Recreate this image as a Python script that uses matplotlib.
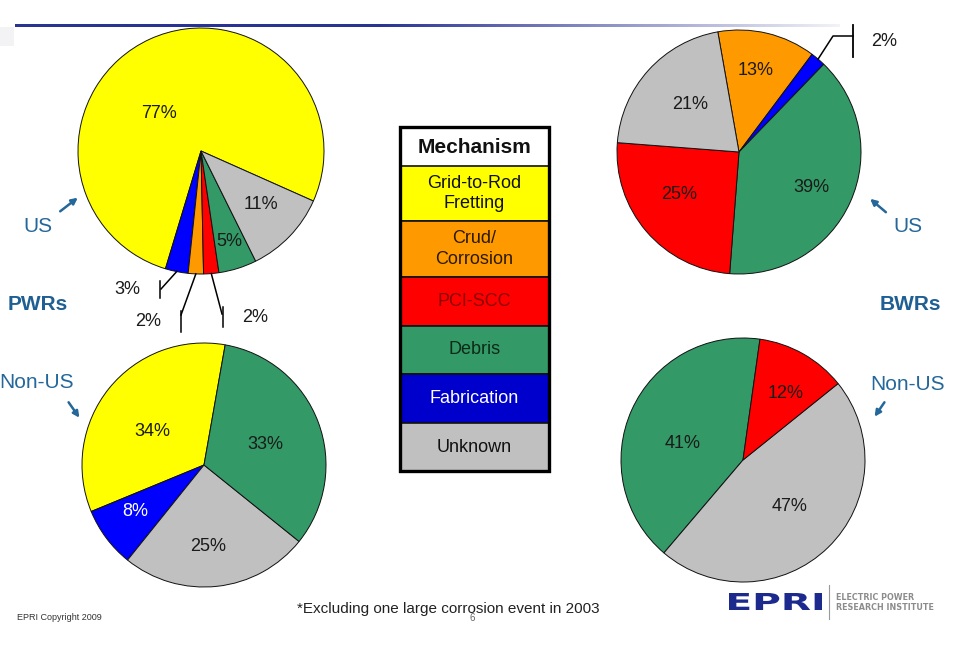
import numpy as np
import matplotlib
matplotlib.use("Agg")
import matplotlib.pyplot as plt
from matplotlib.patches import Rectangle, PathPatch, FancyArrowPatch
from matplotlib.textpath import TextPath
from matplotlib.font_manager import FontProperties
from matplotlib.transforms import Affine2D

plt.rcParams['font.family'] = ['Liberation Sans', 'DejaVu Sans']

# ---- data ----
mechanisms = ['GTRF', 'Crud', 'PCI', 'Debris', 'Fab', 'Unknown']
mechanism_names = ['Grid-to-Rod\nFretting', 'Crud/\nCorrosion', 'PCI-SCC',
                   'Debris', 'Fabrication', 'Unknown']

pwr_us_cats = ['GTRF', 'Fab', 'Crud', 'PCI', 'Debris', 'Unknown']
pwr_us_vals = [77, 3, 2, 2, 5, 11]

pwr_nonus_cats = ['GTRF', 'Fab', 'Unknown', 'Debris']
pwr_nonus_vals = [34, 8, 25, 33]

bwr_us_cats = ['Crud', 'Fab', 'Debris', 'PCI', 'Unknown']
bwr_us_vals = [13, 2, 39, 25, 21]

bwr_nonus_cats = ['Debris', 'Unknown', 'PCI']
bwr_nonus_vals = [41, 47, 12]

footnote = '*Excluding one large corrosion event in 2003'

# ---- style ----
pie_colors = {'GTRF': '#FFFF00', 'Crud': '#FF9900', 'PCI': '#FF0000',
              'Debris': '#339966', 'Fab': '#0000FF', 'Unknown': '#C0C0C0'}
legend_colors = {'GTRF': '#FFFF00', 'Crud': '#FF9900', 'PCI': '#FF0000',
                 'Debris': '#339966', 'Fab': '#0000CC', 'Unknown': '#C0C0C0'}
legend_text = {'GTRF': '#111111', 'Crud': '#2a1a00', 'PCI': '#8a0000',
               'Debris': '#0c2a18', 'Fab': 'white', 'Unknown': '#111111'}
blue_txt = '#24679a'

W, H = 964, 658
fig = plt.figure(figsize=(W / 100, H / 100), dpi=100)
ax = fig.add_axes([0, 0, 1, 1])


def fy(py):
    return H - py


def draw_pie(cats, vals, cx, cy, r, start, ccw, label_spec):
    wedges, _ = ax.pie(vals, colors=[pie_colors[c] for c in cats], startangle=start,
                       counterclock=ccw, radius=r, center=(cx, fy(cy)), frame=True,
                       wedgeprops=dict(edgecolor='#111111', linewidth=0.7))
    for w, c, v in zip(wedges, cats, vals):
        spec = label_spec.get(c)
        if spec is None:
            continue
        d, da = spec
        a = np.deg2rad((w.theta1 + w.theta2) / 2 + da)
        ax.text(cx + d * r * np.cos(a), fy(cy) + d * r * np.sin(a), f'{v}%',
                ha='center', va='center', fontsize=13,
                color='white' if c == 'Fab' else '#1a1a1a')
    return wedges


pwr_us_w = draw_pie(pwr_us_cats, pwr_us_vals, 201, 151, 123, -24, True,
                    {'GTRF': (0.46, 24), 'Debris': (0.77, 0), 'Unknown': (0.65, 2)})
draw_pie(pwr_nonus_cats, pwr_nonus_vals, 204, 465, 122, 80, True,
         {'GTRF': (0.5, 6), 'Fab': (0.68, -3), 'Unknown': (0.67, -3), 'Debris': (0.53, -2)})
bwr_us_w = draw_pie(bwr_us_cats, bwr_us_vals, 739, 152, 122, 100, False,
                    {'Crud': (0.68, 2), 'Debris': (0.66, -2), 'PCI': (0.6, -5),
                     'Unknown': (0.56, -2)})
draw_pie(bwr_nonus_cats, bwr_nonus_vals, 743, 460, 122, 82, True,
         {'Debris': (0.51, 9), 'Unknown': (0.54, 1), 'PCI': (0.65, -3)})


def edge_point(w, cx, cy, r):
    a = np.deg2rad((w.theta1 + w.theta2) / 2)
    return cx + r * np.cos(a), fy(cy) + r * np.sin(a)


# leaders for small PWR US slices
small = [('Fab', (161, 289), (160, 281, 298), (127, 290)),
         ('Crud', (181, 315), (181, 311, 332), (148, 322)),
         ('PCI', (222, 314), (223, 307, 327), (255, 317))]
for cat, mid, tick, txt in small:
    i = pwr_us_cats.index(cat)
    x0, y0 = edge_point(pwr_us_w[i], 201, 151, 123)
    ax.plot([x0, mid[0]], [y0, fy(mid[1])], color='black', lw=1.1)
    ax.plot([tick[0], tick[0]], [fy(tick[1]), fy(tick[2])], color='black', lw=1.1)
    ax.text(txt[0], fy(txt[1]), f'{pwr_us_vals[i]}%', ha='center', va='center',
            fontsize=13, color='#1a1a1a')

# leader for BWR US fabrication
i = bwr_us_cats.index('Fab')
x0, y0 = edge_point(bwr_us_w[i], 739, 152, 122)
ax.plot([x0, 833, 853], [y0, fy(36), fy(36)], color='black', lw=1.1)
ax.plot([853, 853], [fy(25), fy(57)], color='black', lw=1.3)
ax.text(884, fy(42), f'{bwr_us_vals[i]}%', ha='center', va='center',
        fontsize=13, color='#1a1a1a')

# ---- legend table ----
lx0, lx1 = 400, 549
row_edges = [127, 166, 221, 277, 326, 374, 423, 471]
ax.add_patch(Rectangle((lx0, fy(row_edges[1])), lx1 - lx0, row_edges[1] - row_edges[0],
                       facecolor='white', edgecolor='none', zorder=3))
ax.text((lx0 + lx1) / 2, fy((row_edges[0] + row_edges[1]) / 2 + 1), 'Mechanism',
        ha='center', va='center', fontsize=15, fontweight='bold', color='#111111', zorder=5)
for k, (m, name) in enumerate(zip(mechanisms, mechanism_names)):
    top, bot = row_edges[k + 1], row_edges[k + 2]
    ax.add_patch(Rectangle((lx0, fy(bot)), lx1 - lx0, bot - top,
                           facecolor=legend_colors[m], edgecolor='#111111',
                           linewidth=1.2, zorder=3))
    ax.text((lx0 + lx1) / 2, fy((top + bot) / 2), name, ha='center', va='center',
            fontsize=13, color=legend_text[m], linespacing=1.3, zorder=5)
ax.add_patch(Rectangle((lx0, fy(row_edges[-1])), lx1 - lx0, row_edges[-1] - row_edges[0],
                       facecolor='none', edgecolor='black', linewidth=2.4, zorder=6))

# ---- side labels and arrows ----
ax.text(38, fy(226), 'US', ha='center', va='center', fontsize=15, color=blue_txt)
ax.text(38, fy(305), 'PWRs', ha='center', va='center', fontsize=15,
        fontweight='bold', color='#1f5f93')
ax.text(37, fy(383), 'Non-US', ha='center', va='center', fontsize=15, color=blue_txt)
ax.text(908, fy(226), 'US', ha='center', va='center', fontsize=15, color=blue_txt)
ax.text(910, fy(305), 'BWRs', ha='center', va='center', fontsize=15,
        fontweight='bold', color='#1f5f93')
ax.text(908, fy(384), 'Non-US', ha='center', va='center', fontsize=15, color=blue_txt)

arrows = [((58, 213), (80, 196)), ((67, 400), (81, 420)),
          ((888, 214), (868, 197)), ((886, 400), (873, 419))]
for (xa, ya), (xb, yb) in arrows:
    ax.add_patch(FancyArrowPatch((xa, fy(ya)), (xb, fy(yb)), arrowstyle='-|>',
                                 mutation_scale=9, color=blue_txt, lw=1.8))

# ---- top rule with fade ----
xs = np.linspace(0, 1, 400)
fade = np.clip((xs - 0.44) / 0.56, 0, 1)
c0 = np.array([0.16, 0.20, 0.58])
c1 = np.array([0.95, 0.95, 0.97])
grad = ((1 - fade)[:, None] * c0 + fade[:, None] * c1)[None, :, :]
ax.imshow(grad, extent=(15, 840, fy(27.2), fy(24.8)), aspect='auto',
          interpolation='bilinear', zorder=2)
ax.add_patch(Rectangle((0, fy(46)), 14, 19, facecolor='#f3f3f5', edgecolor='none'))

# ---- footer ----
ax.text(448, fy(609), footnote, ha='center', va='center', fontsize=11, color='#222222')
ax.text(472, fy(618), '6', ha='center', va='center', fontsize=7, color='#666666')
ax.text(17, fy(617), 'EPRI Copyright 2009', ha='left', va='center', fontsize=6.5,
        color='#333333')

# EPRI logo
tp = TextPath((0, 0), 'EPRI', size=20, prop=FontProperties(family='DejaVu Sans', weight='bold'))
bb = tp.get_extents()
tr = Affine2D().translate(-bb.x0, -bb.y0).scale(93 / bb.width, 17 / bb.height).translate(729, fy(610))
ax.add_patch(PathPatch(tr.transform_path(tp), facecolor='#1b2a8c', edgecolor='none'))
ax.plot([829, 829], [fy(585), fy(619)], color='#999999', lw=0.8)
ax.text(836, fy(597), 'ELECTRIC POWER', ha='left', va='center', fontsize=5.8,
        fontweight='bold', color='#8c8c8c', family='DejaVu Sans')
ax.text(836, fy(608), 'RESEARCH INSTITUTE', ha='left', va='center', fontsize=5.8,
        fontweight='bold', color='#8c8c8c', family='DejaVu Sans')

ax.set_xlim(0, W)
ax.set_ylim(0, H)
ax.set_aspect('equal')
ax.axis('off')
fig.savefig('out.png', dpi=100, facecolor='white')
